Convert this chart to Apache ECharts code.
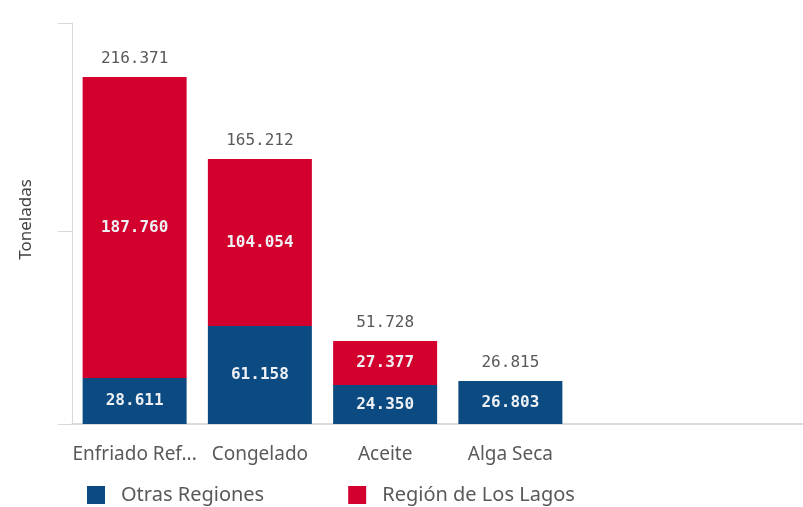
<!DOCTYPE html>
<html lang="es" style="height: 100%">
<head>
  <meta charset="utf-8">
</head>
<body style="height: 100%; margin: 0; background: #fff">
  <div id="container" style="width: 803px; height: 507px"></div>

  <script type="text/javascript" src="https://cdn.jsdelivr.net/npm/echarts@6/dist/echarts.min.js"></script>
  <script type="text/javascript">
    // datos (toneladas)
    var categorias = ['Enfriado Ref...', 'Congelado', 'Aceite', 'Alga Seca'];
    var otrasRegiones = [28611, 61158, 24350.4, 26803];
    var losLagos = [187760, 104054, 27377.4, 12];
    var totales = categorias.map((c, i) => otrasRegiones[i] + losLagos[i]);
    var ticksY = [0, 120000, 250000];

    var dom = document.getElementById('container');
    var myChart = echarts.init(dom, null, { renderer: 'canvas' });

    // miles con punto
    function fmt(v) {
      return String(Math.round(v)).replace(/\B(?=(\d{3})+(?!\d))/g, '.');
    }

    var insideLabel = {
      show: true,
      position: 'inside',
      fontFamily: 'DejaVu Sans Mono',
      fontWeight: 'bold',
      fontSize: 16,
      color: '#eef0f4',
      formatter: p => p.value > 5000 ? fmt(p.value) : ''
    };

    var option = {
      animation: false,
      grid: [
        { left: 72, right: 230, top: 23, bottom: 83 },
        // solo para la línea base que sigue hasta el borde
        { left: 72, right: 0, top: 23, bottom: 83 }
      ],
      legend: {
        data: ['Otras Regiones', 'Región de Los Lagos'],
        left: 87,
        top: 485,
        padding: 0,
        itemWidth: 18,
        itemHeight: 18,
        itemGap: 84,
        icon: 'rect',
        textStyle: {
          fontFamily: 'Noto Sans',
          fontSize: 20,
          color: '#595959',
          padding: [0, 0, 0, 11]
        }
      },
      xAxis: [
        {
          type: 'category',
          gridIndex: 0,
          data: categorias,
          axisLine: { show: false },
          axisTick: { show: false },
          axisLabel: {
            interval: 0,
            margin: 21,
            fontFamily: 'Noto Sans',
            fontSize: 19,
            color: '#595959'
          }
        },
        {
          type: 'value',
          gridIndex: 1,
          min: 0,
          max: 1,
          splitLine: { show: false },
          axisTick: { show: false },
          axisLabel: { show: false },
          axisLine: { show: true, lineStyle: { color: '#cfcfcf', width: 1.5 } }
        }
      ],
      yAxis: [
        {
          type: 'value',
          gridIndex: 0,
          min: 0,
          max: 250000,
          name: 'Toneladas',
          nameLocation: 'middle',
          nameGap: 37,
          nameTextStyle: { fontFamily: 'Noto Sans', fontSize: 17, color: '#404040', padding: [0, 0, 0, 8] },
          splitLine: { show: false },
          axisLine: { show: true, onZero: false, lineStyle: { color: '#d9d9d9' } },
          axisTick: {
            show: true,
            customValues: ticksY,
            length: 14,
            lineStyle: { color: '#d9d9d9' }
          },
          axisLabel: { show: false }
        },
        {
          type: 'value',
          gridIndex: 1,
          min: 0,
          max: 1,
          show: false
        }
      ],
      series: [
        {
          name: 'Otras Regiones',
          type: 'bar',
          stack: 'total',
          barWidth: 104,
          itemStyle: { color: '#0b4b82' },
          label: insideLabel,
          data: otrasRegiones
        },
        {
          name: 'Región de Los Lagos',
          type: 'bar',
          stack: 'total',
          barWidth: 104,
          itemStyle: { color: '#d3002e' },
          label: insideLabel,
          data: losLagos
        },
        {
          name: 'Total',
          type: 'bar',
          barWidth: 104,
          barGap: '-100%',
          z: 1,
          itemStyle: { color: 'rgba(0,0,0,0)' },
          silent: true,
          label: {
            show: true,
            position: 'top',
            distance: 10,
            fontFamily: 'DejaVu Sans Mono',
            fontSize: 16,
            color: '#595959',
            formatter: p => fmt(p.value)
          },
          data: totales
        }
      ]
    };

    myChart.setOption(option);
    window.addEventListener('resize', myChart.resize);
  </script>
</body>
</html>
